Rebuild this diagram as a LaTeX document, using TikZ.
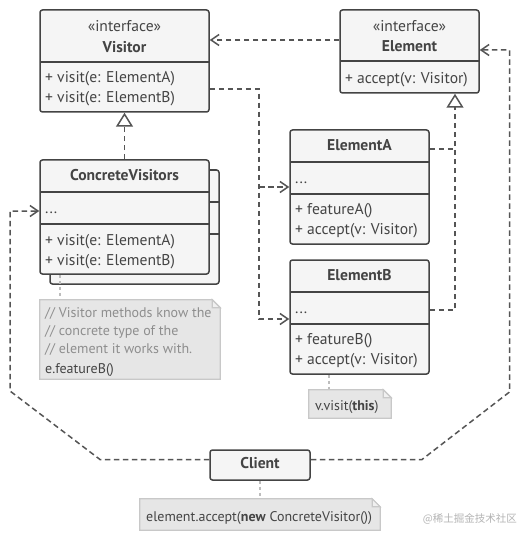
\documentclass[tikz,border=0pt]{standalone}
\usepackage{fontspec}
\setmainfont{PT Sans}
\newfontfamily\cjkfont{Noto Sans CJK SC}
\usetikzlibrary{arrows.meta}
\definecolor{ink}{HTML}{444444}
\definecolor{boxfill}{HTML}{F5F5F5}
\definecolor{linec}{HTML}{555555}
\definecolor{notefill}{HTML}{E6E6E6}
\definecolor{noteline}{HTML}{C8C8C8}
\definecolor{commentc}{HTML}{8E8E8E}
\definecolor{linkc}{HTML}{BDBDBD}
\definecolor{wmc}{HTML}{B4B4B4}
\tikzset{
  classbox/.style={draw=ink, fill=boxfill, line width=1.5pt, rounded corners=2.5pt, inner sep=0pt},
  divider/.style={draw=ink, line width=1.5pt},
  txt/.style={text=ink, font=\fontsize{15.6}{18}\selectfont, inner sep=0pt, yshift=-2pt},
  ttl/.style={txt, font=\fontsize{15.6}{18}\selectfont\bfseries, anchor=mid},
  mem/.style={txt, anchor=mid west},
  ntxt/.style={text=ink, font=\fontsize{14}{16}\selectfont, inner sep=0pt, anchor=mid west, yshift=-1.5pt},
  ctxt/.style={ntxt, text=commentc},
  notearea/.style={inner sep=0pt},
  notestyle/.style={draw=noteline, fill=notefill, line width=1.2pt},
  notefold/.style={draw=noteline, fill=notefill!60!white, line width=1.2pt},
  dep/.style={draw=linec, line width=1.5pt, dash pattern=on 5.5pt off 3.5pt,
    -{Straight Barb[length=8pt,width=11pt,line width=1.5pt]}},
  plainlink/.style={draw=linec, line width=1.5pt, dash pattern=on 5.5pt off 3.5pt},
  realize/.style={draw=linec, line width=1.5pt, dash pattern=on 5.5pt off 3.5pt,
    -{Triangle[open, length=14pt, width=17pt, line width=1.5pt]}},
  notelink/.style={draw=linkc, line width=1.2pt, dash pattern=on 3pt off 3pt},
}
\begin{document}
\begin{tikzpicture}[x=1pt,y=-1pt]
\useasboundingbox[fill=white] (0,0) rectangle (520,540);

% ---------- Visitor ----------
\node[classbox, minimum width=169pt, minimum height=102pt] (visitor) at (124.5,61) {};
\draw[divider] (40,62) -- (209,62);
\node[txt, anchor=mid] (vint) at (124.5,27.5) {«interface»};
\node[ttl] (vname) at (124.5,48) {Visitor};
\node[mem] (vm1) at (45,78) {+ visit(e: ElementA)};
\node[mem] (vm2) at (45,98.5) {+ visit(e: ElementB)};

% ---------- Element ----------
\node[classbox, minimum width=139pt, minimum height=83pt] (element) at (409.5,51.5) {};
\draw[divider] (340,61) -- (479,61);
\node[txt, anchor=mid] (eint) at (409.5,27.5) {«interface»};
\node[ttl] (ename) at (409.5,47.5) {Element};
\node[mem] (em1) at (345,79) {+ accept(v: Visitor)};

% ---------- ConcreteVisitors ----------
\node[classbox, minimum width=169pt, minimum height=114pt] (cvback) at (134.5,227) {};
\draw[divider] (50,202) -- (219,202);
\draw[divider] (50,234) -- (219,234);
\node[classbox, minimum width=169pt, minimum height=114pt] (cv) at (124.5,217) {};
\draw[divider] (40,192) -- (209,192);
\draw[divider] (40,224) -- (209,224);
\node[ttl] (cvname) at (124.5,175.5) {ConcreteVisitors};
\node[mem] (cvf) at (45,209) {...};
\node[mem] (cvm1) at (45,240.5) {+ visit(e: ElementA)};
\node[mem] (cvm2) at (45,260.5) {+ visit(e: ElementB)};

% ---------- ElementA ----------
\node[classbox, minimum width=139pt, minimum height=114pt] (ea) at (359.5,187) {};
\draw[divider] (290,162) -- (429,162);
\draw[divider] (290,194) -- (429,194);
\node[ttl] (eaname) at (359.5,146) {ElementA};
\node[mem] (eaf) at (295,179) {...};
\node[mem] (eam1) at (295,209.5) {+ featureA()};
\node[mem] (eam2) at (295,230) {+ accept(v: Visitor)};

% ---------- ElementB ----------
\node[classbox, minimum width=139pt, minimum height=114pt] (eb) at (359.5,317) {};
\draw[divider] (290,292) -- (429,292);
\draw[divider] (290,324) -- (429,324);
\node[ttl] (ebname) at (359.5,276) {ElementB};
\node[mem] (ebf) at (295,309) {...};
\node[mem] (ebm1) at (295,339.5) {+ featureB()};
\node[mem] (ebm2) at (295,360) {+ accept(v: Visitor)};

% ---------- Client ----------
\node[classbox, minimum width=100pt, minimum height=30pt] (client) at (260,465) {};
\node[ttl] (cname) at (260,464) {Client};

% ---------- Notes ----------
\node[notearea, minimum width=180pt, minimum height=79pt] (n1) at (130,339.5) {};
\node[notearea, minimum width=82pt, minimum height=28pt] (n2) at (350,404) {};
\node[notearea, minimum width=240pt, minimum height=31pt] (n3) at (260,514.5) {};

\draw[notelink] (60,274.8) -- (n1.north -| 60,0);
\draw[notelink] (eb.south -| 329,0) -- (n2.north -| 329,0);
\draw[notelink] (client.south) -- (n3.north);

\foreach \n in {n1,n2,n3}{
  \draw[notestyle] (\n.north west) -- ([xshift=-8pt]\n.north east) -- ([yshift=-8pt]\n.north east)
     -- (\n.south east) -- (\n.south west) -- cycle;
  \draw[notefold] ([xshift=-8pt]\n.north east) -- ([xshift=-8pt,yshift=-8pt]\n.north east)
     -- ([yshift=-8pt]\n.north east) -- cycle;
}
\node[ctxt] (n1a) at (45,313) {// Visitor methods know the};
\node[ctxt] (n1b) at (45,331.5) {// concrete type of the};
\node[ctxt] (n1c) at (45,349.5) {// element it works with.};
\node[ntxt] (n1d) at (45,369.5) {e.featureB()};
\node[ntxt] (n2a) at (315,406) {v.visit(\textbf{this})};
\node[ntxt] (n3a) at (146,517.5) {element.accept(\textbf{new} ConcreteVisitor())};

% ---------- Connectors ----------
\draw[dep] (element.west |- 0,40) -- (visitor.east |- 0,40);
\coordinate (split) at (259,187);
\draw[dep] (visitor.east |- 0,89) -| (split) |- (eb.west |- 0,319);
\draw[dep] (split) -- (ea.west |- 0,187);
\draw[realize] (cv.north) -- (visitor.south);
\coordinate (join) at (455,149);
\draw[realize] (eb.east |- 0,310) -| (join) -- (element.south -| 455,0);
\draw[plainlink] (ea.east |- 0,149) -- (join);

\coordinate (lb) at (100,459.5);
\coordinate (lt) at (10,391);
\draw[dep] (client.west |- 0,459.5) -- (lb) -- (lt) |- (cv.west |- 0,211);
\coordinate (rb) at (422,459.5);
\coordinate (rt) at (509.5,392);
\draw[dep] (client.east |- 0,459.5) -- (rb) -- (rt) |- (element.east |- 0,50);

% ---------- Watermark ----------
\node[inner sep=0pt, anchor=mid east, text=wmc, font=\cjkfont\fontsize{10.5}{12}\selectfont] (wm) at (517,520) {@稀土掘金技术社区};
\end{tikzpicture}
\end{document}
